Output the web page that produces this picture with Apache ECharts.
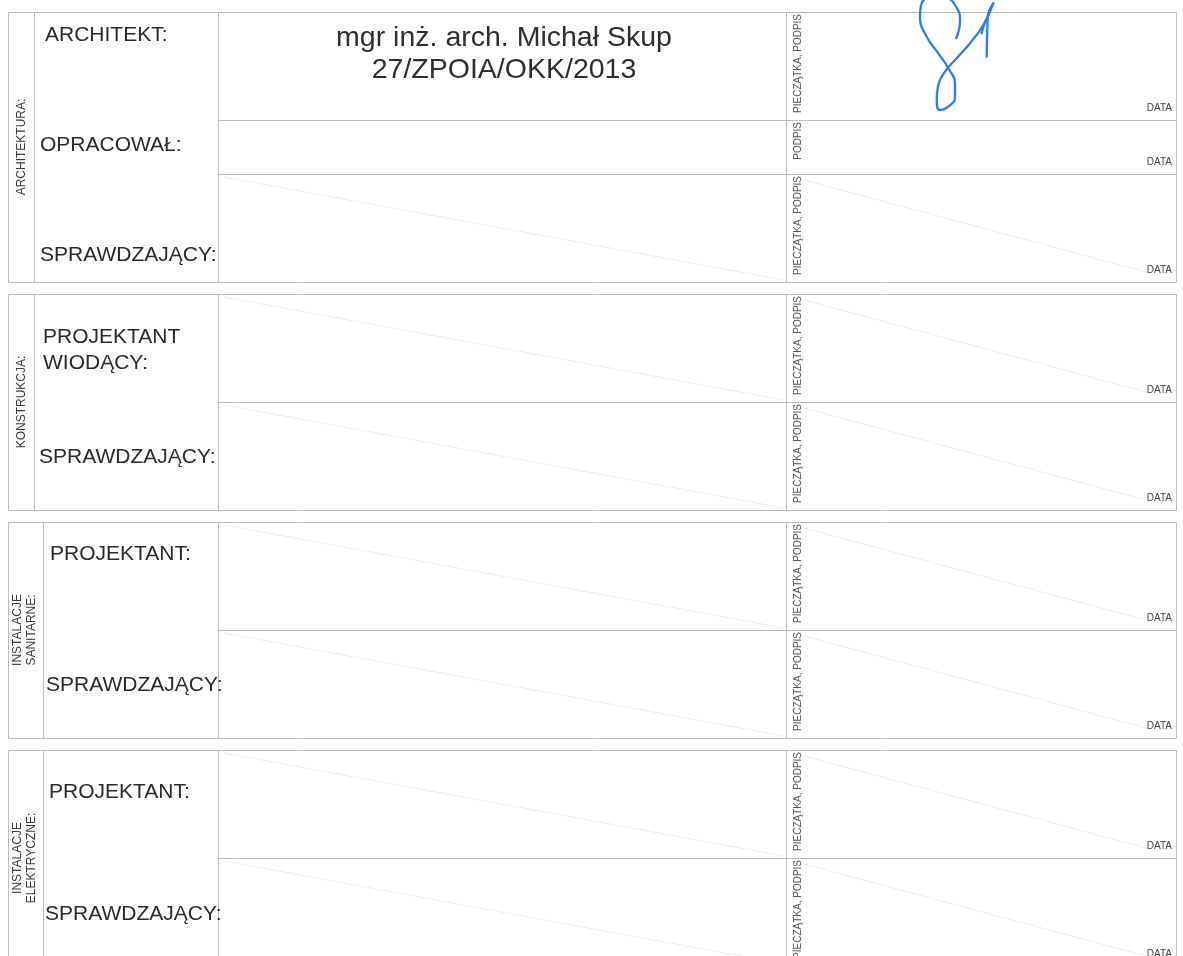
<!DOCTYPE html>
<html>
<head>
<meta charset="utf-8">
<script src="https://cdn.jsdelivr.net/npm/echarts@6/dist/echarts.min.js"></script>
<style>
html,body{margin:0;padding:0;background:#fff;}
#chart{width:1183px;height:956px;}
</style>
</head>
<body>
<div id="chart"></div>
<script>
// ---- content (form structure) ----
const sectionNames = ['ARCHITEKTURA:', 'KONSTRUKCJA:', 'INSTALACJE\nSANITARNE:', 'INSTALACJE\nELEKTRYCZNE:'];
const roleLabels = ['ARCHITEKT:', 'OPRACOWAŁ:', 'SPRAWDZAJĄCY:', 'PROJEKTANT\nWIODĄCY:', 'SPRAWDZAJĄCY:', 'PROJEKTANT:', 'SPRAWDZAJĄCY:', 'PROJEKTANT:', 'SPRAWDZAJĄCY:'];
const roleSection = [0, 0, 0, 1, 1, 2, 2, 3, 3];
const rowSpans = [2, 1, 2, 2, 2, 2, 2, 2, 2];
const designerNames = ['mgr inż. arch. Michał Skup\n27/ZPOIA/OKK/2013', '', '', '', '', '', '', '', ''];
const crossedOut = [false, false, true, true, true, true, true, true, true];
const stampLabel = 'PIECZĄTKA, PODPIS';
const stampLabelShort = 'PODPIS';
const dateLabel = 'DATA';
// handwritten signature strokes (form coordinates)
const signatureStroke1 = [[956.3,38.3],[960,20],[955,5],[946.7,-1.7],[933,-3],[921.7,3.3],[920,16.7],[926.7,36.7],[938.3,53.3],[948.3,68.3],[955,83.3],[955,96.7],[948.3,106.7],[940,110],[936.7,100],[938.3,85],[945,71.7],[956.7,58.3],[970,43.3],[983.3,25],[993.3,3.3]];
const signatureStroke2 = [[993.3,3.3],[988.3,13.3],[987.3,30],[986.7,56.7]];
const signatureStroke3 = [[988,17],[984,25],[981.7,33.3]];

// ---- layout (not data) ----
const L = {
  top: 12, unit: 54, gap: 12,
  left: 8, nameLeft: 218, stampLeft: 786, right: 1176,
  labelColNarrow: 26, labelColWide: 35, sectionLabelX: 21.5, sectionLabelXWide: 24.5,
  roleDx: [11, 6, 6, 9, 5, 7, 3, 6, 2],
  roleDy: [23.5, 25, 81, 56, 55, 32, 55, 42, 56]
};
const FONT = "'Liberation Sans', Arial, sans-serif";
const LINE = '#bcbcbc';

// compute geometry from spans
const sectionData = [];
const rowData = [];
let y = L.top;
sectionNames.forEach(function (name, s) {
  const sTop = y;
  roleLabels.forEach(function (r, i) {
    if (roleSection[i] !== s) return;
    const rTop = y;
    y += rowSpans[i] * L.unit;
    rowData.push([i, rTop, y, s]);
  });
  sectionData.push([s, sTop, y]);
  y += L.gap;
});
function isWide(s) { return sectionNames[s].indexOf('\n') >= 0; }
function innerX(s) { return L.left + (isWide(s) ? L.labelColWide : L.labelColNarrow); }

function renderSection(params, api) {
  const s = api.value(0), t = api.value(1), b = api.value(2);
  const p0 = api.coord([L.left, t]), p1 = api.coord([L.right, b]);
  const ix = api.coord([innerX(s), t])[0];
  const nx = api.coord([L.nameLeft, t])[0];
  const sx = api.coord([L.stampLeft, t])[0];
  const mid = api.coord([isWide(s) ? L.sectionLabelXWide : L.sectionLabelX, (t + b) / 2]);
  const ls = { stroke: LINE, lineWidth: 1, fill: null };
  return {
    type: 'group',
    children: [
      { type: 'rect', shape: { x: p0[0] + 0.5, y: p0[1] + 0.5, width: p1[0] - p0[0], height: p1[1] - p0[1] }, style: ls },
      { type: 'line', shape: { x1: ix + 0.5, y1: p0[1], x2: ix + 0.5, y2: p1[1] }, style: ls },
      { type: 'line', shape: { x1: nx + 0.5, y1: p0[1], x2: nx + 0.5, y2: p1[1] }, style: ls },
      { type: 'line', shape: { x1: sx + 0.5, y1: p0[1], x2: sx + 0.5, y2: p1[1] }, style: ls },
      { type: 'text', x: mid[0], y: mid[1], rotation: Math.PI / 2,
        style: { x: 0, y: 0, text: sectionNames[s], align: 'center', verticalAlign: 'middle', fontFamily: FONT, fontSize: 12, lineHeight: 14.5, fill: '#3a3a3a' } }
    ]
  };
}

function renderRow(params, api) {
  const i = api.value(0), t = api.value(1), b = api.value(2), s = api.value(3);
  const first = roleLabels.findIndex(function (r, k) { return roleSection[k] === s; }) === i;
  const pT = api.coord([L.nameLeft, t]), pB = api.coord([L.right, b]);
  const nx = pT[0], sx = api.coord([L.stampLeft, t])[0], rx = pB[0];
  const top = pT[1], bot = pB[1];
  const children = [];
  if (!first) {
    children.push({ type: 'line', shape: { x1: nx, y1: top + 0.5, x2: rx, y2: top + 0.5 }, style: { stroke: LINE, lineWidth: 1 } });
  }
  if (crossedOut[i]) {
    children.push({ type: 'line', shape: { x1: nx + 6, y1: top + 3, x2: sx - 2, y2: bot - 2 }, style: { stroke: '#ececec', lineWidth: 1 } });
    children.push({ type: 'line', shape: { x1: sx + 18, y1: top + 6, x2: rx - 30, y2: bot - 10 }, style: { stroke: '#ececec', lineWidth: 1 } });
  }
  const lp = api.coord([innerX(s) + L.roleDx[i], t + L.roleDy[i]]);
  children.push({ type: 'text', x: lp[0], y: lp[1],
    style: { x: 0, y: 0, text: roleLabels[i], align: 'left', verticalAlign: 'middle', fontFamily: FONT, fontSize: 21, lineHeight: 26, fill: '#2a2a2a' } });
  if (designerNames[i]) {
    const np = api.coord([(L.nameLeft + L.stampLeft) / 2 + 2, t + 42]);
    children.push({ type: 'text', x: np[0], y: np[1],
      style: { x: 0, y: 0, text: designerNames[i], align: 'center', verticalAlign: 'middle', fontFamily: FONT, fontSize: 28.5, lineHeight: 32, fill: '#2e2e2e' } });
  }
  children.push({ type: 'text', x: sx + 12, y: top + 2, rotation: Math.PI / 2,
    style: { x: 0, y: 0, text: rowSpans[i] < 2 ? stampLabelShort : stampLabel, align: 'right', verticalAlign: 'middle', fontFamily: FONT, fontSize: 10, fill: '#555' } });
  children.push({ type: 'text', x: rx - 4, y: bot - 12,
    style: { x: 0, y: 0, text: dateLabel, align: 'right', verticalAlign: 'middle', fontFamily: FONT, fontSize: 10, fill: '#444' } });
  return { type: 'group', children: children };
}

const chart = echarts.init(document.getElementById('chart'), null, { renderer: 'canvas' });
const sigStyle = { color: '#2f7fe2', width: 2.3, cap: 'round', join: 'round' };
chart.setOption({
  animation: false,
  backgroundColor: '#ffffff',
  grid: { left: 0, right: 0, top: 0, bottom: 0 },
  xAxis: { type: 'value', min: 0, max: 1183, show: false },
  yAxis: { type: 'value', min: 0, max: 956, inverse: true, show: false },
  series: [
    { type: 'custom', name: 'sections', renderItem: renderSection, data: sectionData, clip: false, silent: true },
    { type: 'custom', name: 'rows', renderItem: renderRow, data: rowData, clip: false, silent: true },
    { type: 'line', name: 'sig1', data: signatureStroke1, smooth: 0.5, showSymbol: false, symbol: 'none', lineStyle: sigStyle, clip: false, silent: true, z: 5 },
    { type: 'line', name: 'sig2', data: signatureStroke2, smooth: 0.3, showSymbol: false, symbol: 'none', lineStyle: sigStyle, clip: false, silent: true, z: 5 },
    { type: 'line', name: 'sig3', data: signatureStroke3, smooth: 0.3, showSymbol: false, symbol: 'none', lineStyle: sigStyle, clip: false, silent: true, z: 5 }
  ]
});
</script>
</body>
</html>
